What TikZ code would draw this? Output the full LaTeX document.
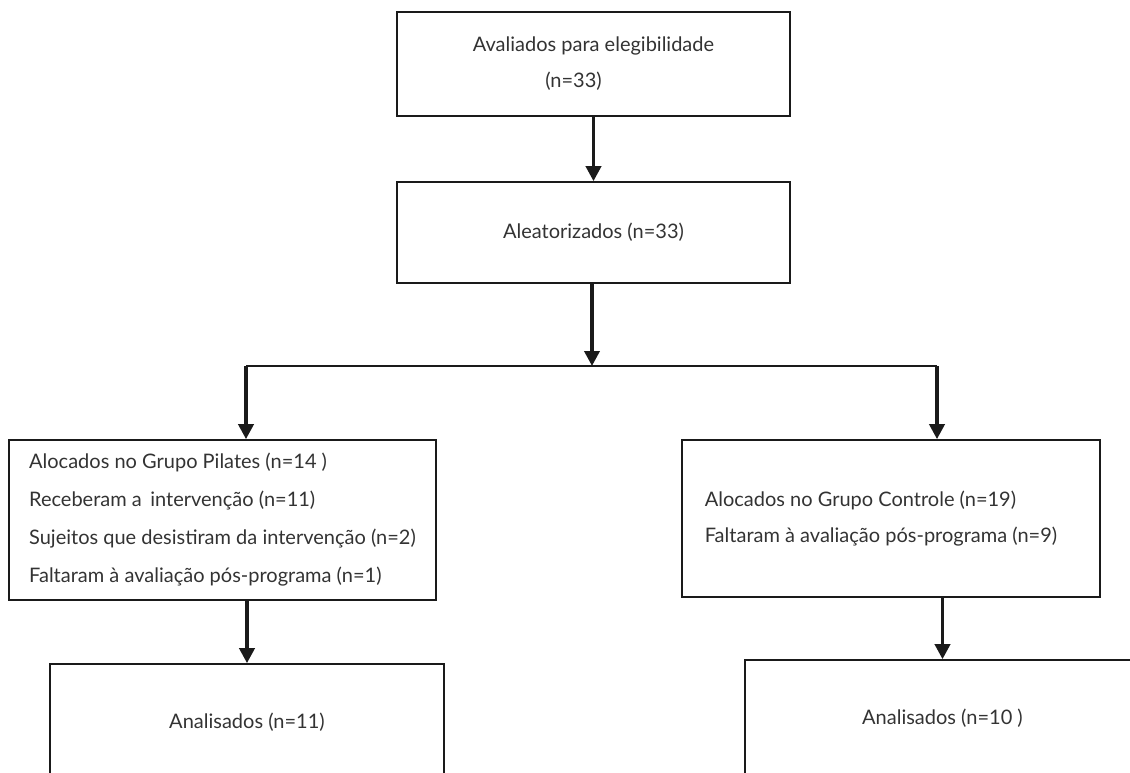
\documentclass[tikz,border=0pt]{standalone}
\usepackage{fontspec}
\setmainfont{Lato}
\usetikzlibrary{arrows.meta,positioning}
\definecolor{boxline}{HTML}{1A1A1A}
\definecolor{labeltext}{HTML}{333333}

\begin{document}
\begin{tikzpicture}[x=1pt, y=-1pt,
  stage/.style={draw=boxline, rectangle, line width=1.6pt,
                font=\fontsize{20}{36}\selectfont, text=labeltext,
                align=center, inner sep=0pt},
  groupbox/.style={stage, align=left},
  arr/.style={-{Triangle[length=15pt,width=15pt]}, line width=3.6pt, boxline},
  flow/.style={line width=1.6pt, boxline},
]
  \useasboundingbox (0,0) rectangle (1130,773);
  \clip (0,0) rectangle (1130,773);

  %% Enrolment and randomisation
  \node[stage, minimum width=393pt, minimum height=104pt] (elig) at (593.5,64)
    {Avaliados para elegibilidade\\(n=33)\hspace*{40pt}};
  \node[stage, minimum width=393pt, minimum height=101pt] (rand) at (593.5,232.5)
    {Aleatorizados (n=33)};

  %% Allocation boxes
  \node[groupbox, minimum width=427pt, minimum height=160pt,
        font=\fontsize{20}{38}\selectfont] (pil) at (222.5,520)
    {Alocados no Grupo Pilates (n=14 )\\
     Receberam a\, intervenção (n=11)\\
     Sujeitos que desistiram da intervenção (n=2)\\
     Faltaram à avaliação pós-programa (n=1)};
  \node[groupbox, minimum width=418pt, minimum height=157pt] (ctl) at (891,518.5)
    {Alocados no Grupo Controle (n=19)\\
     Faltaram à avaliação pós-programa (n=9)\hspace*{20pt}};

  %% Analysis boxes (cut by the page edge)
  \node[stage, minimum width=394pt, minimum height=116pt] (pilres) at (247,722)
    {Analisados (n=11)};
  \node[stage, minimum width=395pt, minimum height=116pt] (ctlres) at (942.5,718)
    {Analisados (n=10 )};

  %% Connectors
  \coordinate (split) at (592,366);
  \coordinate (bl) at (246,366);
  \coordinate (br) at (937,366);

  \draw[arr] (elig) -- (rand);
  \draw[arr] (rand.south -| split) -- (split);
  \draw[flow] (bl) -- (br);
  \draw[arr] (bl) -- (bl |- pil.north);
  \draw[arr] (br) -- (br |- ctl.north);
  \draw[arr] (pilres.north |- pil.south) -- (pilres.north);
  \draw[arr] (ctlres.north |- ctl.south) -- (ctlres.north);
\end{tikzpicture}
\end{document}
